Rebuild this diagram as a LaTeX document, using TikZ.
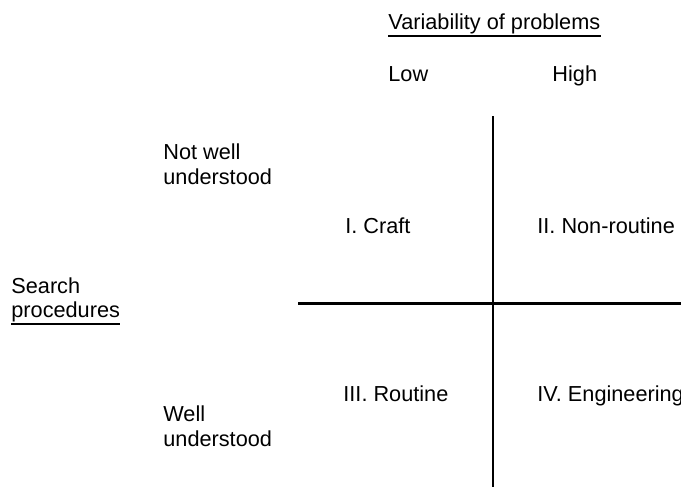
\documentclass[tikz,border=0pt]{standalone}
\usepackage{fontspec}
\setmainfont{Liberation Sans}
\usepackage{tikz}
\usetikzlibrary{positioning}

\begin{document}
\begin{tikzpicture}[x=0.5pt, y=-0.5pt,
  lbl/.style={anchor=base west, inner sep=0pt, font=\fontsize{10.85}{13}\selectfont},
  axisline/.style={line width=1.15pt},
  uline/.style={line width=1pt}]
\useasboundingbox (0,0) rectangle (681,487);

% column heading
\node[lbl] (var) at (388,30) {Variability of problems};
\draw[uline] ([yshift=-3.1pt]var.base west) -- ([yshift=-3.1pt]var.base east);
\node[lbl] (low) at (388,81) {Low};
\node[lbl, anchor=base east] (high) at (597.5,81) {High};

% row heading
\node[lbl] (search) at (11,293) {Search};
\node[lbl] (proc) at (11,317) {procedures};
\draw[uline] ([yshift=-3.4pt]proc.base west) -- ([yshift=-3.4pt]proc.base east);

\node[lbl] (notwell) at (163,159) {Not well};
\node[lbl] (notwellu) at (163,184) {understood};
\node[lbl] (well) at (163,421) {Well};
\node[lbl] (wellu) at (163,446) {understood};

% the cross
\coordinate (vtop) at (493,116);
\coordinate (vbot) at (493,487);
\coordinate (hleft) at (298,303.5);
\coordinate (hright) at (681,303.5);
\draw[axisline] (vtop) -- (vbot);
\draw[axisline] (hleft) -- (hright);

% quadrants
\node[lbl] (craft) at (345,233) {I. Craft};
\node[lbl] (nonroutine) at (537,233) {II. Non-routine};
\node[lbl] (routine) at (343,401) {III. Routine};
\node[lbl] (engineering) at (537,401) {IV. Engineering};

\end{tikzpicture}
\end{document}
